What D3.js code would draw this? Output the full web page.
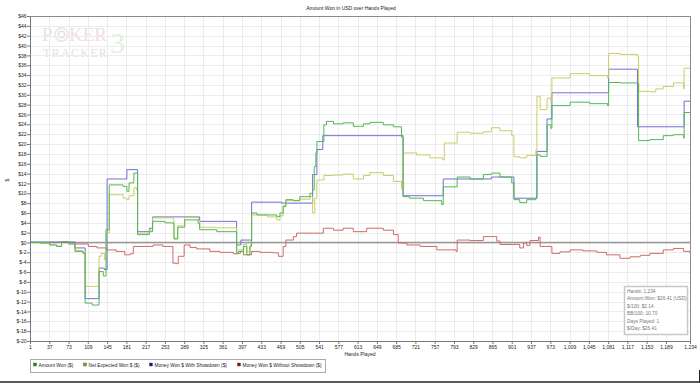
<!DOCTYPE html>
<html><head><meta charset="utf-8">
<script src="https://cdn.jsdelivr.net/npm/d3@7"></script>
<style>
html,body{margin:0;padding:0;background:#fff;}
svg{display:block;font-family:"Liberation Sans",Arial,sans-serif;}
</style></head>
<body><svg id="c" width="700" height="383"></svg>
<script>
// ---- data (hand number, dollars) ----
const xTicks = [1,37,73,109,145,181,217,253,289,325,361,397,433,469,505,541,577,613,649,685,721,757,793,829,865,901,937,973,1009,1045,1081,1117,1153,1189,1234];
const yTicks = d3.range(-20, 47, 2);
const seriesNames = ["Amount Won ($)","Net Expected Won $ ($)","Money Won $ With Showdown ($)","Money Won $ Without Showdown ($)"];
const amountWon = [[1,0],[20,-0.1],[38,-0.5],[51,-0.8],[60,0.2],[73,-0.3],[85,-1.8],[100,-2.2],[104,-12.3],[117,-12.7],[130,-5.9],[138,-6.8],[143,2.6],[149,11.7],[175,11.4],[182,10.4],[186,12.1],[195,14.1],[202,1.6],[224,2.2],[230,4.3],[253,4.0],[269,3.9],[270,0.7],[277,3.1],[290,4.6],[315,3.9],[318,2.6],[350,2.2],[387,-2.2],[394,-1.8],[400,-0.8],[406,-2.5],[412,-0.8],[415,6.0],[425,5.6],[462,5.3],[468,6.0],[474,7.3],[479,8.7],[493,8.5],[505,9.3],[524,10.0],[529,10.7],[532,15.4],[535,18.2],[537,20.5],[550,23.9],[555,24.6],[568,24.1],[586,24.3],[605,23.6],[624,24.1],[636,24.4],[661,23.9],[680,23.5],[695,21.4],[698,9.3],[710,9.0],[736,8.5],[770,7.7],[773,11.3],[799,13.3],[823,12.9],[848,13.8],[863,14.1],[879,13.3],[901,12.1],[905,8.7],[916,8.1],[929,8.7],[946,9.0],[948,17.8],[954,17.5],[967,23.9],[974,23.2],[976,27.8],[1010,28.5],[1047,28.2],[1080,27.8],[1082,32.5],[1104,32.4],[1136,32.3],[1138,20.7],[1159,20.9],[1184,21.7],[1203,21.9],[1222,21.2],[1223,26.4],[1234,26.41]];
const netExpected = [[1,0],[20,-0.1],[38,-0.5],[51,-0.7],[60,0.2],[73,-0.3],[85,-1.6],[100,-2.0],[104,-8.9],[130,-2.8],[134,-2.2],[140,-3.5],[143,2.0],[149,9.7],[175,9.0],[182,8.7],[186,9.5],[195,11.1],[200,10.7],[202,1.9],[224,2.5],[230,5.0],[269,4.6],[270,0.9],[277,3.4],[290,5.1],[315,4.5],[318,3.1],[350,3.0],[387,-1.5],[400,-0.4],[406,-1.9],[412,-0.5],[415,5.6],[445,5.2],[462,4.6],[468,5.4],[474,7.5],[479,8.5],[505,8.8],[524,9.3],[529,6.0],[533,9.0],[537,12.7],[550,13.6],[568,13.7],[586,13.9],[605,12.9],[624,13.6],[636,14.2],[661,13.6],[680,12.4],[695,10.9],[698,18.2],[723,17.8],[748,17.2],[772,16.8],[775,20.2],[799,22.4],[823,22.2],[848,22.5],[863,23.3],[879,22.7],[901,21.7],[905,17.4],[916,17.2],[929,17.7],[946,18.7],[948,29.7],[954,27.0],[967,29.3],[974,28.8],[976,33.4],[1010,34.3],[1047,33.9],[1080,33.4],[1082,38.4],[1104,38.2],[1136,37.8],[1138,30.7],[1159,30.6],[1170,31.2],[1184,31.7],[1203,32.4],[1222,31.2],[1223,35.4],[1234,35.4]];
const withShowdown = [[1,0.1],[85,-1.1],[104,-11.4],[130,-5.2],[140,-5.5],[145,12.9],[182,14.8],[202,2.2],[224,2.9],[230,5.2],[318,4.3],[387,-0.5],[395,0.5],[415,8.2],[471,8.0],[529,13.8],[537,18.9],[548,21.7],[698,9.5],[773,12.9],[863,13.3],[905,9.0],[948,18.5],[967,25.1],[976,30.4],[1082,35.2],[1136,23.5],[1223,28.7],[1234,28.7]];
const withoutShowdown = [[1,0],[73,0],[85,-0.3],[110,-0.8],[126,-1.1],[144,-1.5],[162,-1.8],[178,-2.5],[188,-2.3],[194,-0.8],[219,-0.8],[231,-0.5],[249,-0.8],[266,-0.8],[268,-4.2],[275,-4.3],[278,-2.8],[289,-0.5],[300,-1.0],[312,-1.3],[337,-1.8],[356,-2.0],[381,-2.3],[390,-1.8],[400,-2.5],[415,-1.8],[431,-2.0],[456,-2.1],[465,-2.8],[474,-0.8],[479,0.5],[493,1.2],[499,1.9],[530,1.9],[549,2.9],[568,2.5],[586,2.9],[605,2.2],[630,2.9],[661,2.5],[680,1.6],[689,-0.1],[705,-0.5],[730,-0.8],[761,-1.5],[797,-1.8],[799,0.5],[823,0.4],[848,1.2],[873,0.3],[879,-0.4],[910,-0.4],[916,-1.1],[923,-0.1],[929,-0.6],[935,0.4],[951,1.1],[954,-0.8],[976,-2.2],[991,-1.9],[1010,-1.5],[1034,-1.7],[1060,-2.0],[1078,-2.5],[1103,-3.2],[1122,-2.9],[1141,-2.6],[1159,-2.2],[1184,-1.5],[1203,-1.2],[1222,-1.8],[1234,-2.2]];
const infoLines = ["Hands: 1,234","Amount Won: $26.41 (USD)","$/100: $2.14","BB/100: 10.70","Days Played: 1","$/Day: $26.41"];

// ---- drawing ----
const svg = d3.select("#c");
const L = 30, R = 690, T = 16, B = 341;
const x = d3.scaleLinear().domain([1,1234]).range([L,R]);
const y = d3.scaleLinear().domain([-20,46]).range([B,T]);
const fs = 5;

// watermark
const wm = svg.append("g").attr("font-family","'Liberation Serif','DejaVu Serif',serif");
wm.append("text").attr("x",42).attr("y",41).attr("font-size",19).attr("fill","#f1dede").text("P");
wm.append("circle").attr("cx",61.5).attr("cy",34.5).attr("r",6.5).attr("fill","none").attr("stroke","#e6ece4").attr("stroke-width",2);
wm.append("circle").attr("cx",61.5).attr("cy",34.5).attr("r",3.2).attr("fill","none").attr("stroke","#ecdede").attr("stroke-width",1.5);
wm.append("text").attr("x",69).attr("y",41).attr("font-size",19).attr("fill","#f1dede").text("KER");
wm.append("text").attr("x",43).attr("y",56.5).attr("font-size",12).attr("letter-spacing",1.3).attr("fill","#e2e2e2").text("TRACKER");
wm.append("text").attr("x",110).attr("y",53).attr("font-size",30).attr("fill","#e3efe1").text("3");

// grid
const grid = svg.append("g");
grid.selectAll(".gx").data(xTicks).join("line")
  .attr("x1",d=>Math.round(x(d))+0.5).attr("x2",d=>Math.round(x(d))+0.5).attr("y1",T).attr("y2",B)
  .attr("stroke","#ececec").attr("stroke-width",1);
grid.selectAll(".gy").data(yTicks).join("line")
  .attr("x1",L).attr("x2",R).attr("y1",d=>Math.round(y(d))+0.5).attr("y2",d=>Math.round(y(d))+0.5)
  .attr("stroke","#ececec").attr("stroke-width",1);

// zero line
svg.append("line").attr("x1",L).attr("x2",R).attr("y1",y(0)).attr("y2",y(0)).attr("stroke","#999").attr("stroke-width",1.5);

// border top/right
svg.append("line").attr("x1",L).attr("x2",R).attr("y1",T+0.5).attr("y2",T+0.5).attr("stroke","#8c8c8c");
svg.append("line").attr("x1",R+0.5).attr("x2",R+0.5).attr("y1",T).attr("y2",B).attr("stroke","#8c8c8c");

// series lines
const line = d3.line().x(d=>x(d[0])).y(d=>y(d[1])).curve(d3.curveStepAfter);
const series = [
  {data: withoutShowdown, color:"#d06a6a"},
  {data: withShowdown, color:"#7070d4"},
  {data: netExpected, color:"#cccc66"},
  {data: amountWon, color:"#52b852"}
];
svg.append("g").selectAll("path").data(series).join("path")
  .attr("d",d=>line(d.data)).attr("fill","none").attr("stroke",d=>d.color).attr("stroke-width",1);

// axes
const xAxis = svg.append("g").attr("transform",`translate(0,${B})`)
  .call(d3.axisBottom(x).tickValues(xTicks).tickFormat(d3.format(",")).tickSize(3).tickSizeOuter(0));
const yAxis = svg.append("g").attr("transform",`translate(${L},0)`)
  .call(d3.axisLeft(y).tickValues(yTicks).tickFormat(d=>"$"+d).tickSize(3).tickSizeOuter(0));
[xAxis,yAxis].forEach(a=>{
  a.selectAll("path").attr("stroke","#777");
  a.selectAll("line").attr("stroke","#777");
  a.selectAll("text").attr("font-size",fs).attr("fill","#222").attr("font-family","'Liberation Sans',Arial,sans-serif");
});
xAxis.selectAll("text").attr("dy","0.9em").attr("y",3);
yAxis.selectAll("text").attr("x",-3.5);

// titles
svg.append("text").attr("x",351).attr("y",10).attr("text-anchor","middle").attr("font-size",fs).attr("fill","#222").text("Amount Won in USD over Hands Played");
svg.append("text").attr("x",360).attr("y",356).attr("text-anchor","middle").attr("font-size",fs).attr("fill","#222").text("Hands Played");
svg.append("text").attr("transform","translate(9,180) rotate(-90)").attr("text-anchor","middle").attr("font-size",fs).attr("fill","#222").text("$");

// info box
const ib = svg.append("g");
ib.append("rect").attr("x",624.5).attr("y",286.5).attr("width",63).attr("height",48).attr("fill","#fff").attr("stroke","#c8c8c8").attr("stroke-width",1.5);
ib.selectAll("text").data(infoLines).join("text")
  .attr("x",627).attr("y",(d,i)=>292.5+i*7.5).attr("font-size",4.8).attr("fill","#777").text(d=>d);

// legend
const lg = svg.append("g");
lg.append("rect").attr("x",30.5).attr("y",359.5).attr("width",295).attr("height",13).attr("fill","#fff").attr("stroke","#aaa").attr("stroke-width",1);
const legColors = ["#1c8c1c","#9a9a10","#101090","#901010"];
const legX = [33.5,83.5,149.5,237.5];
const li = lg.selectAll("g.li").data(seriesNames).join("g").attr("transform",(d,i)=>`translate(${legX[i]},0)`);
li.append("rect").attr("x",0).attr("y",363).attr("width",3).attr("height",3).attr("fill",(d,i)=>legColors[i]).attr("stroke","#444").attr("stroke-width",0.4);
li.append("text").attr("x",5).attr("y",366.5).attr("font-size",4.8).attr("fill","#222").text(d=>d);

// outer frame bits
svg.append("line").attr("x1",0).attr("x2",700).attr("y1",382).attr("y2",382).attr("stroke","#222").attr("stroke-width",1.5);
svg.append("line").attr("x1",699.5).attr("x2",699.5).attr("y1",370).attr("y2",383).attr("stroke","#222").attr("stroke-width",1);
</script></body></html>
